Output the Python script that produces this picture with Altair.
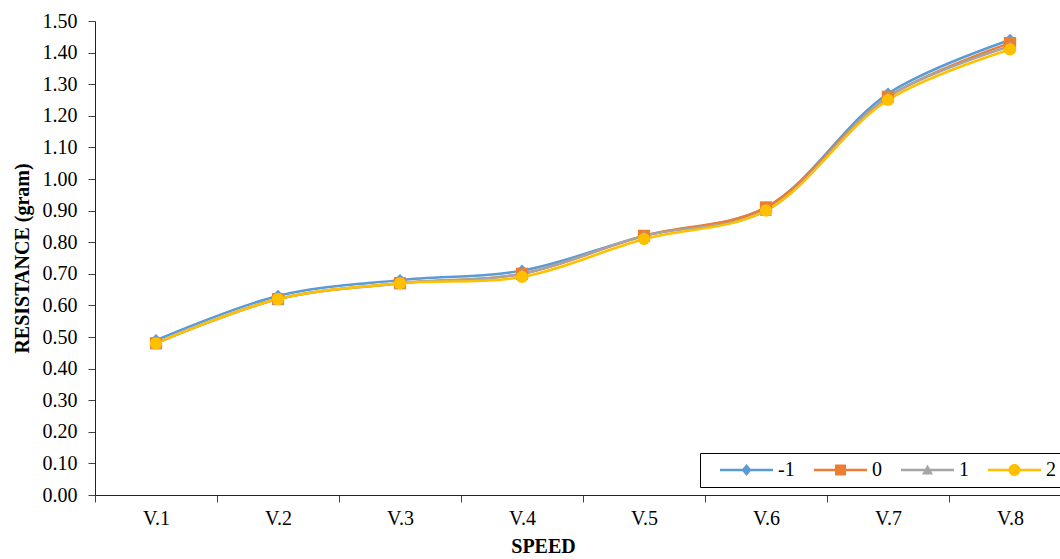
import altair as alt
import pandas as pd

categories = ["V.1", "V.2", "V.3", "V.4", "V.5", "V.6", "V.7", "V.8"]
series_names = ["-1", "0", "1", "2"]
s_m1 = [0.49, 0.63, 0.68, 0.71, 0.82, 0.91, 1.27, 1.44]
s_0 = [0.48, 0.62, 0.67, 0.70, 0.82, 0.91, 1.26, 1.43]
s_1 = [0.48, 0.62, 0.67, 0.70, 0.82, 0.90, 1.26, 1.42]
s_2 = [0.48, 0.62, 0.67, 0.69, 0.81, 0.90, 1.25, 1.41]
y_ticks = [round(i * 0.1, 1) for i in range(16)]

colors = ["#5B9BD5", "#ED7D31", "#A5A5A5", "#FFC000"]
marker_shapes = ["diamond", "square", "triangle-up", "circle"]

# legend glyphs: line segment with marker, shifted right inside the symbol slot
bar = "M0.3,-0.13H5.6V0.13H0.3Z "
legend_shapes = [
    bar + "M2.95,-0.6L3.45,0L2.95,0.6L2.45,0Z",
    bar + "M2.4,-0.55H3.5V0.55H2.4Z",
    bar + "M2.95,-0.55L3.5,0.45H2.4Z",
    bar + "M2.35,0A0.6,0.6 0 1,1 3.55,0A0.6,0.6 0 1,1 2.35,0Z",
]

rows = []
for si, (name, vals) in enumerate(zip(series_names, [s_m1, s_0, s_1, s_2])):
    for ci, (c, v) in enumerate(zip(categories, vals)):
        rows.append({"speed": c, "value": v, "series": name, "order": si * 10 + ci})
df = pd.DataFrame(rows)

FONT = "Liberation Serif"

x_enc = alt.X("speed:N", sort=categories, title="SPEED",
              scale=alt.Scale(paddingInner=0, paddingOuter=0, range=[0, 976]),
              axis=alt.Axis(labelAngle=0, tickBand="extent", titleX=448))
y_enc = alt.Y("value:Q", title="RESISTANCE (gram)",
              scale=alt.Scale(domain=[0, 1.5], nice=False),
              axis=alt.Axis(values=y_ticks, format=".2f"))
color_main = alt.Color("series:N", sort=series_names,
                       scale=alt.Scale(domain=series_names, range=colors), legend=None)

lines = alt.Chart(df).mark_line(interpolate="catmull-rom", strokeWidth=2.5).encode(
    x=x_enc, y=y_enc, color=color_main, detail="series:N", order="order:Q"
)

points = alt.Chart(df).mark_point(filled=True, size=150, opacity=1).encode(
    x=x_enc, y=y_enc, color=color_main,
    shape=alt.Shape("series:N", sort=series_names,
                    scale=alt.Scale(domain=series_names, range=marker_shapes), legend=None),
)

legend_layer = alt.Chart(df).transform_filter("false").mark_point(filled=True, opacity=1).encode(
    x=x_enc, y=y_enc,
    color=alt.Color("series:N", sort=series_names,
                    scale=alt.Scale(domain=series_names, range=colors),
                    legend=alt.Legend(title=None, orient="none", legendX=605, legendY=432,
                                      direction="horizontal", columns=4,
                                      symbolSize=400, labelFontSize=20, labelFont=FONT,
                                      labelColor="#000", labelOffset=51, columnPadding=6,
                                      padding=7, strokeColor="#000", symbolStrokeWidth=0,
                                      symbolOpacity=1)),
    shape=alt.Shape("series:N", sort=series_names,
                    scale=alt.Scale(domain=series_names, range=legend_shapes)),
)

chart = alt.layer(lines, points, legend_layer).resolve_scale(
    color="independent", shape="independent"
).properties(
    width=965, height=474,
    autosize=alt.AutoSizeParams(type="none"),
    padding={"left": 95, "top": 21, "right": 0, "bottom": 64},
).configure_view(stroke=None).configure_axis(
    grid=False, labelFont=FONT, labelFontSize=20, labelColor="#000",
    titleFont=FONT, titleFontSize=20, titleFontWeight="bold", titleColor="#000",
    domainColor="#222", tickColor="#444", tickSize=7,
).configure_axisY(titlePadding=10, labelPadding=11).configure_axisX(titlePadding=8, labelPadding=6)

chart.save("out.html", embed_options={"renderer": "svg", "actions": False})
